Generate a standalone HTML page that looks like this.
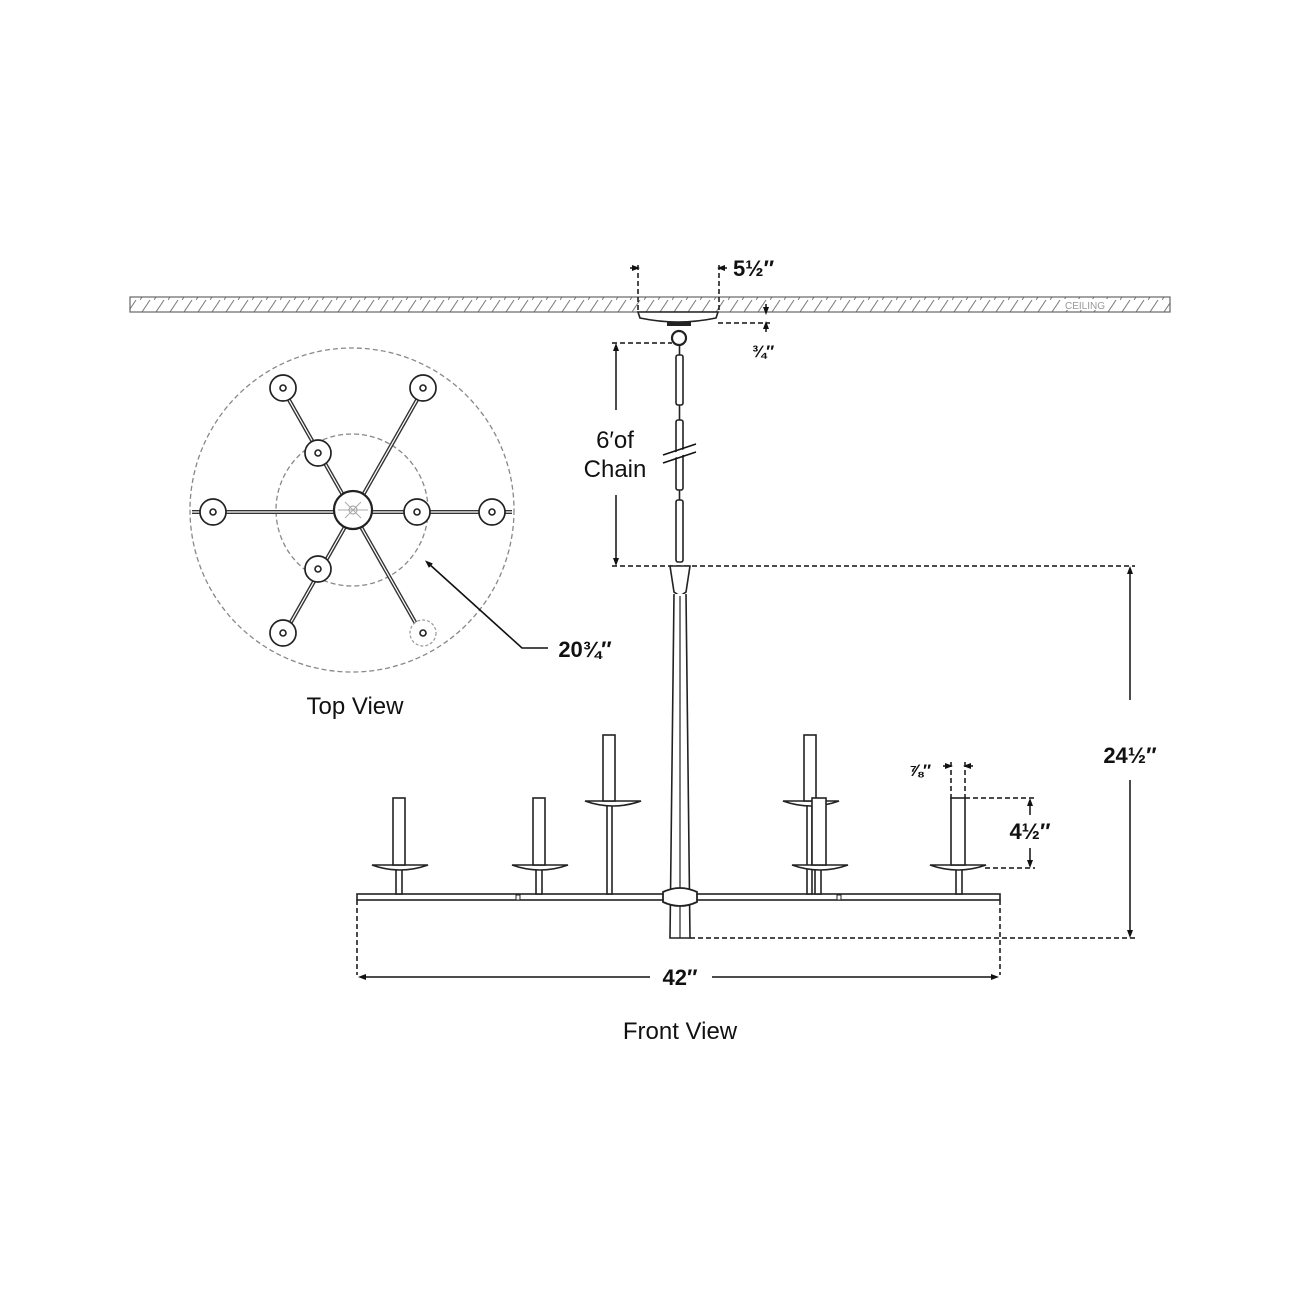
<!DOCTYPE html>
<html><head><meta charset="utf-8"><style>
html,body{margin:0;padding:0;background:#fff}
svg{display:block}
text{font-family:"Liberation Sans","DejaVu Sans",sans-serif;fill:#111}
</style></head><body>
<svg width="1300" height="1300" viewBox="0 0 1300 1300" xmlns="http://www.w3.org/2000/svg">
<defs>
<pattern id="h" width="14" height="15" patternUnits="userSpaceOnUse">
<line x1="0" y1="15" x2="10" y2="0" stroke="#777" stroke-width="1"/>
</pattern>
<marker id="a" markerWidth="8" markerHeight="8" refX="4" refY="4" orient="auto-start-reverse" markerUnits="userSpaceOnUse">
<path d="M0,1 L8,4 L0,7 z" fill="#111"/></marker>
</defs>
<rect x="130" y="297" width="1040" height="15" fill="url(#h)" stroke="#666" stroke-width="1.2"/>
<rect x="1062" y="299" width="46" height="11" fill="#fff"/>
<text x="1085" y="309" font-size="10" text-anchor="middle" style="fill:#999">CEILING</text>
<path d="M638,312 L718,312 L716,318 Q678,326 640,318 Z" fill="#fff" stroke="#222" stroke-width="1.6"/>
<rect x="667" y="322" width="24" height="4" fill="#222"/>
<circle cx="679" cy="338" r="7" fill="none" stroke="#222" stroke-width="2.2"/>
<g stroke="#111" stroke-width="1.5" stroke-dasharray="5,3" fill="none">
<line x1="638" y1="265" x2="638" y2="312"/>
<line x1="719" y1="265" x2="719" y2="312"/>
<line x1="718" y1="323" x2="770" y2="323"/>
<line x1="612" y1="343" x2="672" y2="343"/>
<line x1="612" y1="566" x2="1135" y2="566"/>
<line x1="690" y1="938" x2="1135" y2="938"/>
<line x1="357" y1="900" x2="357" y2="975"/>
<line x1="1000" y1="900" x2="1000" y2="975"/>
<line x1="951" y1="762" x2="951" y2="800"/>
<line x1="965" y1="762" x2="965" y2="800"/>
<line x1="965" y1="798" x2="1035" y2="798"/>
<line x1="985" y1="868" x2="1035" y2="868"/>
</g>
<g stroke="#111" stroke-width="1.5">
<line x1="630" y1="268" x2="636" y2="268" marker-end="url(#a)"/>
<line x1="727" y1="268" x2="721" y2="268" marker-end="url(#a)"/>
<line x1="766" y1="304" x2="766" y2="311" marker-end="url(#a)"/>
<line x1="766" y1="332" x2="766" y2="325" marker-end="url(#a)"/>
<line x1="943" y1="766" x2="949" y2="766" marker-end="url(#a)"/>
<line x1="973" y1="766" x2="967" y2="766" marker-end="url(#a)"/>
<line x1="616" y1="410" x2="616" y2="347" marker-end="url(#a)"/>
<line x1="616" y1="495" x2="616" y2="562" marker-end="url(#a)"/>
<line x1="1130" y1="700" x2="1130" y2="570" marker-end="url(#a)"/>
<line x1="1130" y1="780" x2="1130" y2="934" marker-end="url(#a)"/>
<line x1="1030" y1="815" x2="1030" y2="802" marker-end="url(#a)"/>
<line x1="1030" y1="848" x2="1030" y2="864" marker-end="url(#a)"/>
<line x1="650" y1="977" x2="362" y2="977" marker-end="url(#a)"/>
<line x1="712" y1="977" x2="995" y2="977" marker-end="url(#a)"/>
</g>
<text x="733" y="276" font-size="22" font-weight="bold">5½″</text>
<text x="752" y="357" font-size="17" font-weight="bold">¾″</text>
<text x="615" y="448" font-size="24" text-anchor="middle">6′of</text>
<text x="615" y="477" font-size="24" text-anchor="middle">Chain</text>
<text x="1130" y="763" font-size="22" font-weight="bold" text-anchor="middle">24½″</text>
<text x="920" y="776" font-size="17" font-weight="bold" text-anchor="middle">⅞″</text>
<text x="1030" y="839" font-size="22" font-weight="bold" text-anchor="middle">4½″</text>
<text x="680" y="985" font-size="22" font-weight="bold" text-anchor="middle">42″</text>
<text x="680" y="1039" font-size="24" text-anchor="middle">Front View</text>
<text x="355" y="714" font-size="24" text-anchor="middle">Top View</text>
<text x="585" y="657" font-size="22" font-weight="bold" text-anchor="middle">20¾″</text>
<g stroke="#222" stroke-width="1.6" fill="#fff">
<rect x="676" y="355" width="7" height="50" rx="2"/>
<rect x="676" y="420" width="7" height="70" rx="2"/>
<rect x="676" y="500" width="7" height="62" rx="2"/>
<line x1="679.5" y1="345" x2="679.5" y2="355"/>
<line x1="679.5" y1="405" x2="679.5" y2="420"/>
<line x1="679.5" y1="490" x2="679.5" y2="500"/>
</g>
<line x1="663" y1="455" x2="696" y2="444" stroke="#111" stroke-width="1.6"/>
<line x1="663" y1="463" x2="696" y2="452" stroke="#111" stroke-width="1.6"/>
<line x1="663" y1="459" x2="696" y2="448" stroke="#fff" stroke-width="5"/>
<path d="M670,566 L690,566 L686,592 L680,596 L674,592 Z" fill="#fff" stroke="#222" stroke-width="1.6"/>
<path d="M674,594 L670,938 L690,938 L686,594" fill="#fff" stroke="#222" stroke-width="1.6"/>
<line x1="680" y1="596" x2="680" y2="938" stroke="#222" stroke-width="1.2"/>
<rect x="357" y="894" width="643" height="6" fill="#fff" stroke="#222" stroke-width="1.6"/>
<rect x="516" y="895" width="4" height="5" fill="#fff" stroke="#222" stroke-width="1"/>
<rect x="837" y="895" width="4" height="5" fill="#fff" stroke="#222" stroke-width="1"/>
<path d="M663,892 Q680,884 697,892 L697,902 Q680,910 663,902 Z" fill="#fff" stroke="#222" stroke-width="1.8"/>
<g stroke="#222" stroke-width="1.6" fill="#fff">
<rect x="396" y="866" width="6" height="28"/><path d="M372,865 L428,865 Q400,875 372,865Z"/><rect x="393" y="798" width="12" height="67"/>
<rect x="536" y="866" width="6" height="28"/><path d="M512,865 L568,865 Q540,875 512,865Z"/><rect x="533" y="798" width="12" height="67"/>
<rect x="607" y="803" width="5" height="91"/><path d="M585,801 L641,801 Q613,811 585,801Z"/><rect x="603" y="735" width="12" height="66"/>
<rect x="807" y="803" width="5" height="91"/><path d="M783,801 L839,801 Q811,811 783,801Z"/><rect x="804" y="735" width="12" height="66"/>
<rect x="815" y="866" width="6" height="28"/><path d="M792,865 L848,865 Q820,875 792,865Z"/><rect x="812" y="798" width="14" height="67"/>
<rect x="956" y="866" width="6" height="28"/><path d="M930,865 L986,865 Q958,875 930,865Z"/><rect x="951" y="798" width="14" height="67"/>
</g>
<circle cx="352" cy="510" r="162" fill="none" stroke="#888" stroke-width="1.3" stroke-dasharray="5,3"/>
<circle cx="352" cy="510" r="76" fill="none" stroke="#888" stroke-width="1.3" stroke-dasharray="5,3"/>
<g stroke="#333" stroke-width="4">
<line x1="192" y1="512" x2="512" y2="512"/>
<line x1="276" y1="377" x2="428" y2="645"/>
<line x1="430" y1="377" x2="278" y2="645"/>
</g>
<g stroke="#fff" stroke-width="1.2">
<line x1="192" y1="512" x2="512" y2="512"/>
<line x1="276" y1="377" x2="428" y2="645"/>
<line x1="430" y1="377" x2="278" y2="645"/>
</g>
<g fill="#fff" stroke="#222" stroke-width="1.7">
<circle cx="283" cy="388" r="13"/><circle cx="423" cy="388" r="13"/>
<circle cx="213" cy="512" r="13"/><circle cx="492" cy="512" r="13"/>
<circle cx="283" cy="633" r="13"/>
<circle cx="318" cy="453" r="13"/><circle cx="417" cy="512" r="13"/><circle cx="318" cy="569" r="13"/>
</g>
<circle cx="423" cy="633" r="13" fill="#fff" stroke="#999" stroke-width="1.2" stroke-dasharray="3,2"/>
<circle cx="353" cy="510" r="19" fill="#fff" stroke="#222" stroke-width="2.2"/>
<circle cx="353" cy="510" r="4" fill="none" stroke="#999"/>
<g stroke="#aaa" stroke-width="1"><line x1="345" y1="502" x2="361" y2="518"/><line x1="361" y1="502" x2="345" y2="518"/><line x1="338" y1="510" x2="368" y2="510"/></g>
<g fill="none" stroke="#222" stroke-width="1.6">
<circle cx="283" cy="388" r="3"/><circle cx="423" cy="388" r="3"/><circle cx="213" cy="512" r="3"/><circle cx="492" cy="512" r="3"/>
<circle cx="283" cy="633" r="3"/><circle cx="423" cy="633" r="3"/><circle cx="318" cy="453" r="3"/><circle cx="417" cy="512" r="3"/><circle cx="318" cy="569" r="3"/>
</g>
<polyline points="548,648 522,648 428,563" fill="none" stroke="#111" stroke-width="1.6" marker-end="url(#a)"/>
</svg>
</body></html>
